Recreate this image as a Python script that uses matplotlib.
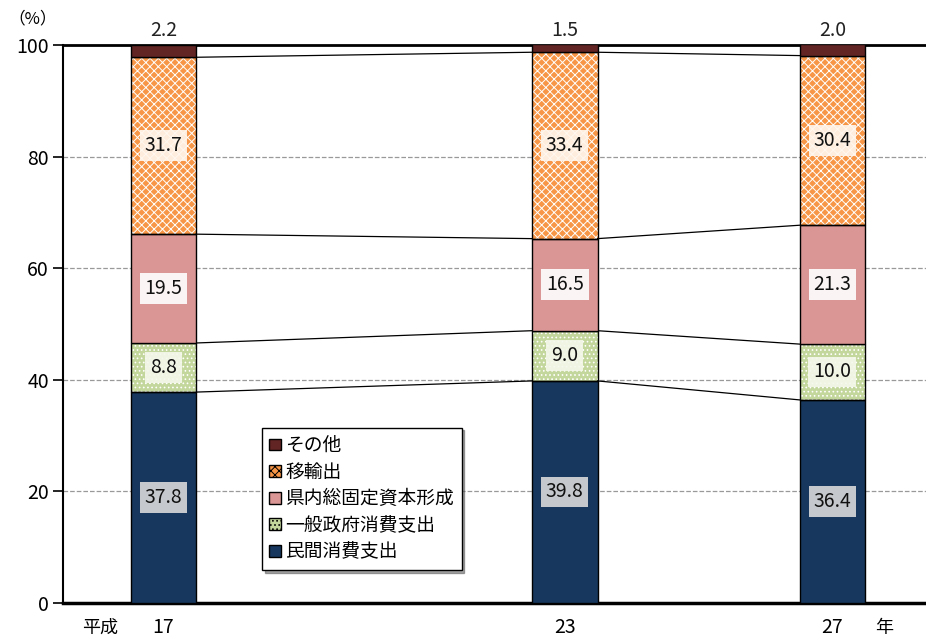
import numpy as np
import matplotlib
matplotlib.use("Agg")
import matplotlib.pyplot as plt

plt.rcParams['font.family'] = ['Noto Sans CJK JP', 'DejaVu Sans']
plt.rcParams['hatch.linewidth'] = 0.7

# data
years = [17, 23, 27]
categories = ["民間消費支出", "一般政府消費支出", "県内総固定資本形成", "移輸出", "その他"]
minkan = [37.8, 39.8, 36.4]
seifu = [8.8, 9.0, 10.0]
kennai = [19.5, 16.5, 21.3]
iyushutsu = [31.7, 33.4, 30.4]
sonota = [2.2, 1.5, 2.0]
series = [minkan, seifu, kennai, iyushutsu, sonota]

colors = ["#17375E", "#C3D69B", "#D99694", "#F79646", "#632523"]
hatches = [None, "....", None, "xxxx", None]
label_bg = ["#D9D9D9", "#F4F8EC", "#FFFFFF", "#FFF7EE", None]

fig = plt.figure(figsize=(9.26, 6.39), dpi=100)
ax = fig.add_axes([0.068, 0.0563, 0.932, 0.8733])

x = np.array(years, dtype=float)
width = 0.98
bottoms = np.zeros(len(years))
tops_list = []
for vals, col, h, bg, name in zip(series, colors, hatches, label_bg, categories):
    vals = np.array(vals)
    if h:
        ax.bar(x, vals, width, bottom=bottoms, color=col, edgecolor="white",
               hatch=h, linewidth=0, zorder=2)
        ax.bar(x, vals, width, bottom=bottoms, fill=False, edgecolor="black",
               linewidth=1, zorder=3)
        ax.bar([0], [0], color=col, edgecolor="black", hatch=h, label=name)
    else:
        ax.bar(x, vals, width, bottom=bottoms, color=col, edgecolor="black",
               linewidth=1, zorder=3, label=name)
    for xi, b, v in zip(x, bottoms, vals):
        if bg is None:
            ax.text(xi, 100.8, f"{v:.1f}", ha="center", va="bottom", fontsize=14,
                    color="#222222")
        else:
            ax.text(xi, b + v / 2, f"{v:.1f}", ha="center", va="center", fontsize=14,
                    color="#111111", zorder=5,
                    bbox=dict(boxstyle="square,pad=0.25", fc=bg, ec="none", alpha=0.9))
    bottoms = bottoms + vals
    tops_list.append(bottoms.copy())

# connector lines between bars
for tops in tops_list[:-1]:
    for i in range(len(x) - 1):
        ax.plot([x[i] + width / 2, x[i + 1] - width / 2], [tops[i], tops[i + 1]],
                color="black", linewidth=0.9, zorder=2)

ax.set_xlim(15.5, 28.4)
ax.set_ylim(0, 100)
ax.set_yticks([0, 20, 40, 60, 80, 100])
ax.tick_params(axis="y", labelsize=14, length=7, direction="out", width=1.2, pad=3)
ax.set_xticks(years)
ax.set_xticklabels([str(y) for y in years], fontsize=14)
ax.tick_params(axis="x", length=0, pad=10)
ax.yaxis.grid(True, linestyle="--", color="#999999", linewidth=0.9)
ax.set_axisbelow(True)

ax.spines["right"].set_visible(False)
ax.spines["top"].set_linewidth(2)
ax.spines["bottom"].set_linewidth(2.5)
ax.spines["left"].set_linewidth(1.5)

ax.text(16.05, -4.4, "平成", ha="center", va="center", fontsize=13)
ax.text(27.77, -4.4, "年", ha="center", va="center", fontsize=13)
fig.text(0.035, 0.97, "（%）", ha="center", va="center", fontsize=12)

handles, labels = ax.get_legend_handles_labels()
leg = ax.legend(handles[::-1], labels[::-1], loc="lower left",
                bbox_to_anchor=(0.2306, 0.059), borderaxespad=0, fontsize=13.5,
                frameon=True, fancybox=False, shadow=True, handlelength=0.6,
                handleheight=0.6, handletextpad=0.25, labelspacing=0.3, borderpad=0.4)
leg.get_frame().set_edgecolor("black")
leg.get_frame().set_linewidth(1)

fig.savefig("out.png", dpi=100)
